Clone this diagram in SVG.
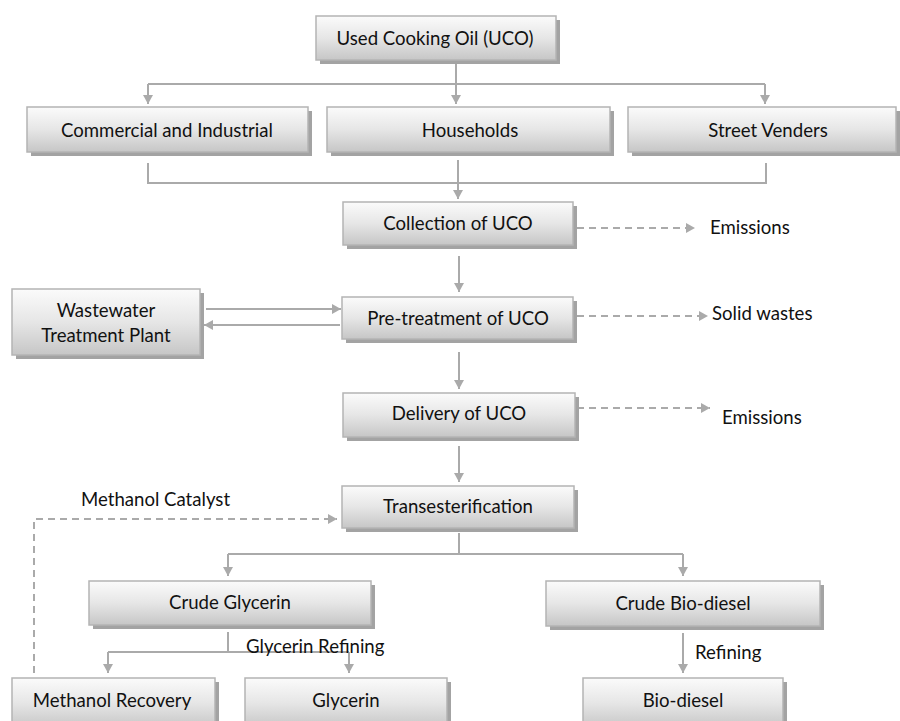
<svg xmlns="http://www.w3.org/2000/svg" width="900" height="721" viewBox="0 0 900 721">
<style>
.box{fill:url(#g);stroke:#b4b4b4;stroke-width:1.5}
.sh{fill:#a3a3a3}
.t{font-family:Lato,"Liberation Sans",sans-serif;font-size:18.6px;fill:#111;text-anchor:middle;dominant-baseline:central}
.l{font-family:Lato,"Liberation Sans",sans-serif;font-size:18.6px;fill:#111;dominant-baseline:central}
.c{stroke:#aaaaaa;stroke-width:2;fill:none}
.d{stroke:#aaaaaa;stroke-width:2;fill:none;stroke-dasharray:7 5}
.a{marker-end:url(#ah)}
</style>
<defs>
<linearGradient id="g" x1="0" y1="0" x2="0" y2="1">
<stop offset="0" stop-color="#fbfbfb"/>
<stop offset="0.5" stop-color="#e6e6e6"/>
<stop offset="1" stop-color="#c6c6c6"/>
</linearGradient>
<marker id="ah" viewBox="0 0 10 10" refX="9" refY="5" markerWidth="10" markerHeight="10" markerUnits="userSpaceOnUse" orient="auto">
<path d="M0,0 L9,5 L0,10 z" fill="#aaaaaa"/>
</marker>
</defs>
<rect width="900" height="721" fill="#ffffff"/>
<g id="connectors">
<line class="c a" x1="456" y1="60" x2="456" y2="104"/>
<line class="c" x1="148" y1="84" x2="765" y2="84"/>
<line class="c a" x1="148" y1="84" x2="148" y2="104"/>
<line class="c a" x1="765" y1="84" x2="765" y2="104"/>
<path class="c" d="M148,163 V183 H766 V163"/>
<line class="c a" x1="458" y1="160" x2="458" y2="199"/>
<line class="c a" x1="459" y1="256" x2="459" y2="292"/>
<line class="c a" x1="459" y1="352" x2="459" y2="389"/>
<line class="c a" x1="459" y1="446" x2="459" y2="482"/>
<line class="d a" x1="577" y1="228" x2="695" y2="228"/>
<line class="d a" x1="577" y1="316" x2="708" y2="316"/>
<line class="d a" x1="577" y1="408" x2="710" y2="408"/>
<line class="c a" x1="206" y1="309" x2="341" y2="309"/>
<line class="c a" x1="340" y1="325" x2="204" y2="325"/>
<path class="d a" d="M34,673 V519 H337"/>
<line class="c" x1="459" y1="533" x2="459" y2="554"/>
<line class="c" x1="228" y1="554" x2="683" y2="554"/>
<line class="c a" x1="228" y1="554" x2="228" y2="576"/>
<line class="c a" x1="683" y1="554" x2="683" y2="576"/>
<line class="c" x1="228" y1="632" x2="228" y2="652"/>
<line class="c" x1="108" y1="652" x2="349" y2="652"/>
<line class="c a" x1="108" y1="652" x2="108" y2="673"/>
<line class="c a" x1="349" y1="652" x2="349" y2="673"/>
<line class="c a" x1="683" y1="633" x2="683" y2="673"/>
</g>
<g id="uco"><rect class="sh" x="320" y="20" width="240" height="44"/><rect class="box" x="316" y="16" width="240" height="44"/><text class="t" x="435" y="38">Used Cooking Oil (UCO)</text></g>
<g id="commercial"><rect class="sh" x="31" y="111" width="281" height="45"/><rect class="box" x="27" y="107" width="281" height="45"/><text class="t" x="167" y="130">Commercial and Industrial</text></g>
<g id="households"><rect class="sh" x="331" y="111" width="283" height="45"/><rect class="box" x="327" y="107" width="283" height="45"/><text class="t" x="470" y="130">Households</text></g>
<g id="street"><rect class="sh" x="632" y="111" width="268" height="45"/><rect class="box" x="628" y="107" width="268" height="45"/><text class="t" x="768" y="130">Street Venders</text></g>
<g id="collection"><rect class="sh" x="347" y="206" width="230" height="43"/><rect class="box" x="343" y="202" width="230" height="43"/><text class="t" x="458" y="223">Collection of UCO</text></g>
<g id="pretreatment"><rect class="sh" x="346" y="301" width="231" height="42"/><rect class="box" x="342" y="297" width="231" height="42"/><text class="t" x="458" y="318">Pre-treatment of UCO</text></g>
<g id="wastewater"><rect class="sh" x="16" y="293" width="188" height="66"/><rect class="box" x="12" y="289" width="188" height="66"/><text class="t" x="106" y="310">Wastewater</text><text class="t" x="106" y="335">Treatment Plant</text></g>
<g id="delivery"><rect class="sh" x="347" y="397" width="232" height="44"/><rect class="box" x="343" y="393" width="232" height="44"/><text class="t" x="459" y="413">Delivery of UCO</text></g>
<g id="transesterification"><rect class="sh" x="346" y="490" width="232" height="42"/><rect class="box" x="342" y="486" width="232" height="42"/><text class="t" x="458" y="506">Transesterification</text></g>
<g id="crudeglycerin"><rect class="sh" x="93" y="585" width="282" height="44"/><rect class="box" x="89" y="581" width="282" height="44"/><text class="t" x="230" y="602">Crude Glycerin</text></g>
<g id="crudebiodiesel"><rect class="sh" x="550" y="585" width="274" height="45"/><rect class="box" x="546" y="581" width="274" height="45"/><text class="t" x="683" y="603">Crude Bio-diesel</text></g>
<g id="methanolrecovery"><rect class="sh" x="16" y="682" width="203" height="50"/><rect class="box" x="12" y="678" width="203" height="50"/><text class="t" x="112" y="700">Methanol Recovery</text></g>
<g id="glycerin"><rect class="sh" x="249" y="682" width="202" height="50"/><rect class="box" x="245" y="678" width="202" height="50"/><text class="t" x="346" y="700">Glycerin</text></g>
<g id="biodiesel"><rect class="sh" x="587" y="682" width="200" height="50"/><rect class="box" x="583" y="678" width="200" height="50"/><text class="t" x="683" y="700">Bio-diesel</text></g>
<g id="labels">
<text class="l" x="710" y="227">Emissions</text>
<text class="l" x="712" y="313">Solid wastes</text>
<text class="l" x="722" y="417">Emissions</text>
<text class="l" x="81" y="499">Methanol Catalyst</text>
<text class="l" x="246" y="646">Glycerin Refining</text>
<text class="l" x="695" y="652">Refining</text>
</g>
</svg>
